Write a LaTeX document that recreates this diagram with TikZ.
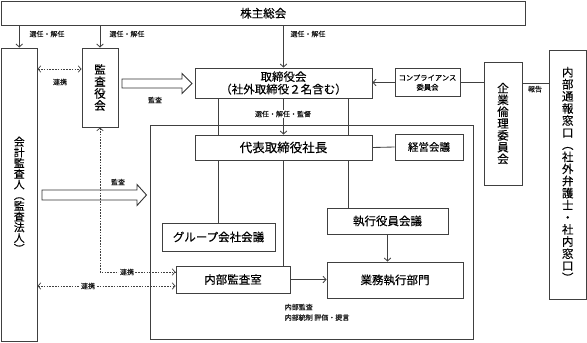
\documentclass[tikz,border=0pt]{standalone}
\usepackage{fontspec}
\setmainfont[FakeBold=0.35]{Noto Sans CJK JP}
\usetikzlibrary{arrows.meta}
\begin{document}
\begin{tikzpicture}[x=1pt,y=-1pt,
  box/.style={draw=black!75,fill=white,line width=0.85pt,inner sep=0pt,align=center,text=black,
    font=\fontsize{11.5}{12.5}\selectfont},
  vbox/.style={box,font=\fontsize{11.5}{12}\selectfont},
  lbl/.style={inner sep=0.6pt,fill=white,text=black!90,font=\fontsize{7}{8}\selectfont},
  ln/.style={draw=black!75,line width=0.85pt},
  arr/.style={ln,-{Straight Barb[length=3pt,width=6.5pt]}},
  darr/.style={ln,line width=0.7pt,dash pattern=on 1.6pt off 1.2pt,{Straight Barb[length=3pt,width=6.5pt]}-{Straight Barb[length=3pt,width=6.5pt]}},
  hollow/.style={draw=black!80,fill=white,line width=0.9pt,line join=miter}
]
\useasboundingbox (0,0) rectangle (587,343);

% frame
\draw[ln] (150,125) rectangle (473,339);

% lines behind boxes
\coordinate (xa) at (218,0);
\coordinate (xb) at (348,0);
\coordinate (tbot) at (283.5,98);
\draw[ln] (xa |- tbot) -- (218,223);
\draw[ln] (xb |- tbot) -- (348,208);

% boxes
\node[box,minimum width=523.5,minimum height=23.5] (sh) at (263.25,13.25) {株主総会};
\node[vbox,minimum width=35.5,minimum height=293.5,font=\fontsize{10.8}{10.7}\selectfont] (kai) at (19.25,194.75)
  {会\\計\\監\\査\\人\\︵\\監\\査\\法\\人\\︶};
\node[vbox,minimum width=36,minimum height=79] (kan) at (100,87.5) {監\\査\\役\\会};
\node[box,minimum width=177,minimum height=30] (tori) at (283.5,83) {取締役会\\（社外取締役２名含む）};
\node[box,minimum width=65,minimum height=28,font=\fontsize{7.3}{9.5}\selectfont] (comp) at (427.5,82.5) {コンプライアンス\\委員会};
\node[vbox,minimum width=38,minimum height=123,font=\fontsize{11.5}{11.8}\selectfont] (kigyo) at (503,123.5) {企\\業\\倫\\理\\委\\員\\会};
\node[vbox,minimum width=37.5,minimum height=249,font=\fontsize{11.5}{12.1}\selectfont] (naibu) at (567.75,174.5)
  {内\\部\\通\\報\\窓\\口\\︵\\社\\外\\弁\\護\\士\\・\\社\\内\\窓\\口\\︶};
\node[box,minimum width=177,minimum height=25,font=\fontsize{12.5}{13}\selectfont] (dai) at (283.5,147.5) {代表取締役社長};
\node[box,minimum width=68,minimum height=26,font=\fontsize{10.5}{12}\selectfont] (kei) at (429,147) {経営会議};
\node[box,minimum width=121,minimum height=26] (shikko) at (387.5,221) {執行役員会議};
\node[box,minimum width=113,minimum height=28] (group) at (218.5,237) {グループ会社会議};
\node[box,minimum width=114,minimum height=27] (kansa) at (233,279.5) {内部監査室};
\node[box,minimum width=136,minimum height=36] (gyomu) at (395,280) {業務執行部門};

% connectors
\draw[arr] (kai.north |- sh.south) -- (kai.north);
\draw[arr] (kan.north |- sh.south) -- (kan.north);
\draw[arr] (tori.north |- sh.south) -- (tori.north);
\node[lbl] at (47,34) {選任・解任};
\node[lbl] at (127,34) {選任・解任};
\node[lbl] at (308,34) {選任・解任};

\coordinate (y69) at (0,69);
\draw[darr] (kai.east |- y69) -- (kan.west |- y69);
\node[lbl] at (60,82) {連携};

% hollow arrows
\draw[hollow] (122,79) -- (182,79) -- (182,73.5) -- (192,83.5) -- (182,93.5) -- (182,88) -- (122,88) -- cycle;
\node[lbl] at (155,100) {監査};
\draw[hollow] (42,190) -- (137,190) -- (137,184.5) -- (146.5,195) -- (137,205.5) -- (137,200) -- (42,200) -- cycle;
\node[lbl] at (118,182) {監査};

\draw[arr] (tori.south) -- (dai.north);
\node[lbl] at (283,114) {選任・解任・監督};
\draw[ln] (dai.east) -- (kei.west);
\draw[ln] (dai.south) -- (kansa.north -| dai.south);
\draw[arr] (shikko.south) -- (gyomu.north -| shikko.south);
\draw[arr] (kansa.east) -- (gyomu.west |- kansa.east);

\draw[arr] (comp.west) -- (tori.east |- comp.west);
\draw[ln] (kigyo.west |- comp.east) -- (comp.east);
\coordinate (y83) at (0,83);
\draw[ln] (kigyo.east |- y83) -- (naibu.west |- y83);
\node[lbl,anchor=north] at (535,85) {報告};

% dotted / dashed links
\coordinate (y272) at (0,272);
\coordinate (y286) at (0,286);
\draw[darr] (kan.south) -- (kan.south |- y272) -- (kansa.west |- y272);
\node[lbl] at (127,272) {連携};
\draw[darr] (kai.east |- y286) -- (kansa.west |- y286);
\node[lbl] at (88,286) {連携};

\node[lbl,anchor=north west,align=left,fill=none,font=\fontsize{7}{10.5}\selectfont] (note) at (284,303) {内部監査\\内部統制 評価・提言};
\end{tikzpicture}
\end{document}
